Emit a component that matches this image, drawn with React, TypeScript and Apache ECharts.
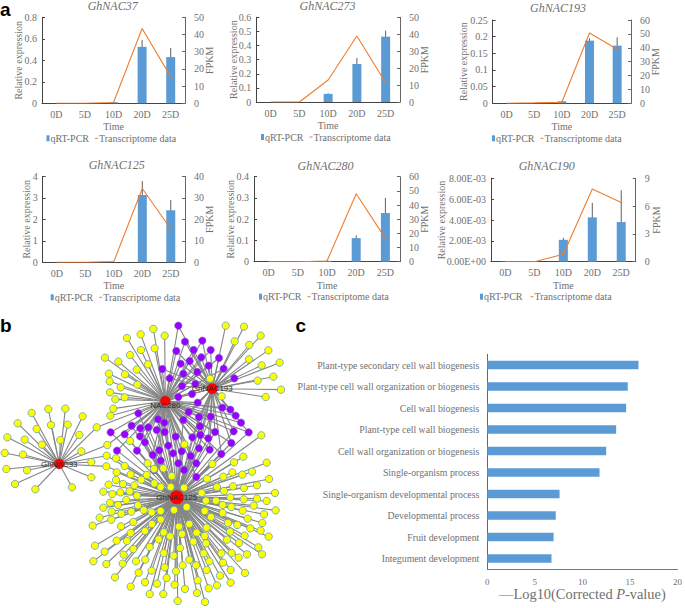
import React, { useEffect, useRef } from "react";
import * as echarts from "echarts";

const SERIF = "'Liberation Serif', serif";
const SANS = "'Liberation Sans', sans-serif";
const GREY = "#707070";
const BLUE = "#5b9bd5";
const ORANGE = "#ed7d31";

const days = ["0D", "5D", "10D", "20D", "25D"];

const nac37Bars = [0, 0, 0.01, 0.525, 0.43];
const nac37Err = [0, 0, 0.002, 0.065, 0.085];
const nac37Fpkm = [0, 0, 0.5, 43.5, 15.5];

const nac273Bars = [0, 0, 0.057, 0.269, 0.463];
const nac273Err = [0, 0, 0.005, 0.043, 0.042];
const nac273Fpkm = [0, 0, 13, 39, 11.4];

const nac193Bars = [0, 0, 0.006, 0.188, 0.173];
const nac193Err = [0, 0, 0.001, 0.007, 0.025];
const nac193Fpkm = [0, 0.3, 0.7, 50.6, 39];

const nac125Bars = [0, 0, 0, 3.13, 2.42];
const nac125Err = [0, 0, 0, 0.65, 0.48];
const nac125Fpkm = [0, 0, 0.4, 34.3, 15.5];

const nac280Bars = [0, 0, 0.004, 0.111, 0.229];
const nac280Err = [0, 0, 0.001, 0.013, 0.071];
const nac280Fpkm = [0, 0, 0.5, 48, 16.5];

const nac190Bars = [0.00004, 0.00003, 0.0021, 0.00425, 0.0038];
const nac190Err = [0.00002, 0.00002, 0.0002, 0.0014, 0.00305];
const nac190Fpkm = [0, 0, 0.8, 7.85, 6.4];

const goTerms = [
  "Plant-type secondary cell wall biogenesis",
  "Plant-type cell wall organization or biogenesis",
  "Cell wall biogenesis",
  "Plant-type cell wall biogenesis",
  "Cell wall organization or biogenesis",
  "Single-organism process",
  "Single-organism developmental process",
  "Developmental process",
  "Fruit development",
  "Integument development",
];
const goValues = [15.9, 14.77, 14.6, 13.55, 12.5, 11.8, 7.6, 7.2, 6.97, 6.75];

type P = [number, number];
const crop = (ox: number, oy: number, pts: P[]): P[] => pts.map(([x, y]) => [ox + x / 3, oy + y / 3]);

const leftOnly = crop(0, 420, [
  [95, -21], [145, -33], [196, -34], [248, -11], [53, 10], [110, 27], [153, 15], [203, 14], [238, 45],
  [22, 52], [74, 59], [126, 74], [181, 60], [14, 99], [69, 104], [244, 94], [274, 126], [19, 147],
  [81, 151], [274, 172], [45, 192], [106, 208], [216, 202],
]);
const leftAnd280 = crop(0, 420, [[290, 22], [322, 75]]);
const leftAnd125 = crop(0, 420, [[320, 107], [319, 139]]);

const yellow280 = crop(90, 310, [
  [190, 57], [224, 77], [152, 73], [111, 84], [194, 115], [153, 120], [120, 135], [45, 143], [85, 155],
  [174, 163], [140, 179], [57, 191], [105, 193], [59, 214], [142, 224], [92, 232], [60, 247], [76, 268],
  [104, 262], [70, 296], [61, 317],
]);
const yellow193 = crop(90, 310, [
  [407, 47], [462, 50], [512, 77], [434, 94], [478, 105], [535, 121], [477, 148], [569, 158], [515, 166],
  [550, 200], [503, 212], [573, 239], [527, 261], [395, 259], [360, 206],
]);
const purpleUpper = crop(90, 310, [
  [265, 47], [285, 95], [337, 92], [259, 123], [311, 120], [362, 120], [334, 142], [387, 144], [299, 153],
  [272, 161], [356, 167], [217, 177], [401, 176], [322, 186], [280, 191], [239, 205], [433, 205], [316, 222],
  [276, 228], [306, 252], [265, 261], [323, 278], [397, 293], [421, 299], [296, 306], [437, 317], [453, 338],
]);
const purpleLower = crop(90, 310, [
  [145, 310], [204, 328], [223, 338], [125, 347], [151, 355], [175, 352], [200, 360], [224, 366], [62, 367],
  [104, 373], [150, 379], [257, 380], [165, 397], [235, 407], [81, 422], [141, 422], [208, 421], [249, 430],
  [275, 424], [302, 438], [188, 435], [212, 452], [265, 460], [319, 460], [192, 480], [282, 480], [319, 501],
]);
const purpleRightLower = crop(90, 310, [
  [280, 330], [327, 321], [362, 320], [330, 349], [431, 364], [476, 367], [375, 366], [307, 382], [331, 375],
  [355, 385], [424, 399], [327, 415], [359, 419], [394, 432],
]);
const yellow125Top = crop(90, 310, [[120, 393], [283, 403], [514, 376]]);
const yellow125 = crop(90, 455, [
  [78, 10], [104, 33], [80, 52], [122, 58], [154, 74], [170, 60], [192, 42], [220, 40], [245, 63], [173, 25],
  [367, 27], [432, 22], [460, 5], [530, 23], [457, 59], [427, 52], [486, 50], [400, 65], [351, 71], [537, 72],
  [429, 94], [462, 99], [501, 91], [381, 96], [402, 108], [335, 114], [555, 114], [530, 138], [501, 131],
  [461, 133], [421, 127], [378, 137], [348, 137], [398, 150], [491, 152], [424, 156], [557, 166], [458, 167],
  [344, 168], [398, 174], [522, 178], [363, 186], [473, 191], [414, 204], [442, 210], [517, 204], [481, 220],
  [512, 227], [298, 207], [350, 218], [267, 215], [420, 230], [464, 242], [320, 233], [276, 237], [344, 243],
  [536, 245], [240, 244], [221, 232], [411, 254], [310, 260], [348, 265], [447, 264], [505, 277], [270, 279],
  [341, 295], [394, 295], [425, 294], [446, 308], [471, 298], [516, 298], [298, 314], [358, 319], [251, 302],
  [221, 294], [399, 323], [318, 331], [278, 331], [422, 345], [350, 345], [258, 349], [224, 337], [166, 314],
  [138, 319], [98, 326], [101, 299], [130, 282], [179, 276], [206, 253], [165, 228], [186, 207], [130, 201],
  [122, 234], [111, 258], [80, 257], [44, 290], [15, 272], [10, 319], [49, 327], [146, 353], [185, 347],
  [230, 369], [390, 362], [465, 354], [422, 383], [381, 391], [356, 400], [323, 376], [201, 386], [165, 382],
  [75, 367], [122, 395], [254, 389], [285, 402], [321, 414], [179, 417], [220, 417], [263, 438], [345, 441],
  [93, 214], [8, 212], [29, 188], [64, 194], [40, 158], [65, 170], [94, 176], [60, 143], [84, 150], [124, 170],
  [161, 165], [185, 172], [212, 168], [212, 194], [252, 165], [290, 156], [144, 151], [109, 135], [141, 122],
  [91, 112], [67, 117], [40, 110], [119, 109], [133, 91], [78, 75], [56, 89], [99, 87], [193, 85], [212, 96],
  [242, 96], [282, 98],
]);

const hubs: { name: string; at: P; size: number; offset: P }[] = [
  { name: "GhNAC33", at: [59.3, 464], size: 10, offset: [0, 0] },
  { name: "NAC280", at: [165.3, 401], size: 10, offset: [0, 4] },
  { name: "GhNAC193", at: [212.3, 388.7], size: 10.5, offset: [0, 0] },
  { name: "GhNAC125", at: [176.7, 497.3], size: 13.5, offset: [0, 0] },
];

const panels = [
  { title: "GhNAC37", cx: 112.7, ty: 5, g: [42, 17.3, 185, 103.3], max: 0.8, step: 0.2, rmax: 50, rstep: 10, bars: nac37Bars, err: nac37Err, fpkm: nac37Fpkm, gap: 19, rgap: 19, lx: 46.5, dashGap: 6 },
  { title: "GhNAC273", cx: 327.5, ty: 5, g: [256.3, 17.3, 400, 102], max: 0.6, step: 0.1, rmax: 50, rstep: 10, bars: nac273Bars, err: nac273Err, fpkm: nac273Fpkm, gap: 18, rgap: 19, lx: 261, dashGap: 6 },
  { title: "GhNAC193", cx: 558, ty: 7, g: [492.7, 20, 631, 103.3], max: 0.25, step: 0.05, rmax: 60, rstep: 10, bars: nac193Bars, err: nac193Err, fpkm: nac193Fpkm, gap: 24, rgap: 19, lx: 492, dashGap: 6 },
  { title: "GhNAC125", cx: 116.7, ty: 164, g: [42.7, 176.3, 185, 262.3], max: 4, step: 1, rmax: 40, rstep: 10, bars: nac125Bars, err: nac125Err, fpkm: nac125Fpkm, gap: 11, rgap: 19, lx: 50.7, dashGap: 6 },
  { title: "GhNAC280", cx: 325.5, ty: 165, g: [254, 176.7, 400, 261.7], max: 0.4, step: 0.1, rmax: 60, rstep: 10, bars: nac280Bars, err: nac280Err, fpkm: nac280Fpkm, gap: 19, rgap: 19, lx: 259, dashGap: 6 },
  { title: "GhNAC190", cx: 546.7, ty: 165, g: [491, 178.3, 635.7, 261.7], max: 0.008, step: 0.002, rmax: 9, rstep: 3, bars: nac190Bars, err: nac190Err, fpkm: nac190Fpkm, gap: 45, rgap: 16, lx: 480, dashGap: 8 },
];

const sci = (v: number) => {
  const [m, e] = v.toExponential(2).split("e");
  const n = Math.abs(Number(e));
  return `${m}E${e[0] === "-" ? "-" : "+"}${n < 10 ? "0" + n : n}`;
};

function buildOption() {
  const W = 685, H = 608;
  const grid: any[] = [], xAxis: any[] = [], yAxis: any[] = [], series: any[] = [], title: any[] = [], legend: any[] = [];

  panels.forEach((p, i) => {
    const [x0, y0, x1, y1] = p.g;
    grid.push({ left: x0, top: y0, width: x1 - x0, height: y1 - y0, containLabel: false });
    title.push({ text: p.title, left: p.cx, top: p.ty - 5.5, textAlign: "center", padding: 0,
      textStyle: { fontFamily: SERIF, fontStyle: "italic", fontWeight: "normal", fontSize: 12, color: GREY } });
    xAxis.push({ type: "category", gridIndex: i, data: days, name: "Time", nameLocation: "middle", nameGap: 18.5,
      nameTextStyle: { fontFamily: SERIF, fontSize: 10, color: GREY },
      axisTick: { show: false }, axisLine: { lineStyle: { color: "#444", width: 1 } },
      axisLabel: { fontFamily: SERIF, fontSize: 10, color: GREY, margin: 6, interval: 0 } });
    const yBase = (name: string, gap: number, rotate: number, side: string, color: string) => ({
      type: "value", gridIndex: i, position: side, name, nameLocation: "middle", nameGap: gap, nameRotate: rotate, nameMoveOverlap: false,
      nameTextStyle: { fontFamily: SERIF, fontSize: 10, color: GREY }, splitLine: { show: false },
      axisLine: { show: true, onZero: false, lineStyle: { color, width: 1 } },
      axisTick: { show: true, inside: true, length: 3, lineStyle: { color, width: 1 } } });
    yAxis.push({ ...yBase("Relative expression", p.gap, 90, "left", "#444"), min: 0, max: p.max, interval: p.step,
      axisLabel: { fontFamily: SERIF, fontSize: 10, color: GREY, margin: 5, showMinLabel: true, showMaxLabel: true,
        formatter: p.max < 0.01 ? (v: number) => sci(v) : (v: number) => String(Number(v.toFixed(3))) } });
    yAxis.push({ ...yBase("FPKM", p.rgap, 90, "right", "#666"), min: 0, max: p.rmax, interval: p.rstep,
      axisLabel: { fontFamily: SERIF, fontSize: 10, color: GREY, margin: 9, showMinLabel: true, showMaxLabel: true } });

    series.push({ name: "qRT-PCR", type: "bar", xAxisIndex: i, yAxisIndex: 2 * i, data: p.bars, barWidth: 9,
      itemStyle: { color: BLUE } });
    series.push({ type: "custom", xAxisIndex: i, yAxisIndex: 2 * i, data: p.bars.map((b, k) => [k, Math.max(b - p.err[k], 0), b + p.err[k]]),
      encode: { x: 0, y: [1, 2] }, clip: false, silent: true,
      renderItem: (_: any, api: any) => {
        const a = api.coord([api.value(0), api.value(1)]);
        const b = api.coord([api.value(0), api.value(2)]);
        return { type: "line", shape: { x1: a[0], y1: a[1], x2: b[0], y2: b[1] }, style: { stroke: "#5f5f5f", lineWidth: 1 } };
      } });
    series.push({ name: "Transcriptome data", type: "line", xAxisIndex: i, yAxisIndex: 2 * i + 1, data: p.fpkm, symbol: "none",
      lineStyle: { color: ORANGE, width: 1.1 }, itemStyle: { color: ORANGE } });

    legend.push({ data: [{ name: "qRT-PCR", icon: "rect" }, { name: "Transcriptome data", icon: "path://M0 0h3v1H0z" }],
      left: p.lx, top: y1 + 30, orient: "horizontal", padding: 0,
      itemWidth: 3, itemHeight: 6, itemGap: p.dashGap, selectedMode: false,
      textStyle: { fontFamily: SERIF, fontSize: 10, color: GREY, padding: [0, 0, 0, -4] } });
  });

  // panel c
  const cx0 = 487.3, cy0 = 354.3, cx1 = 679.7, cy1 = 569.3;
  grid.push({ left: cx0, top: cy0, width: cx1 - cx0, height: cy1 - cy0 });
  xAxis.push({ type: "value", gridIndex: 6, min: 0, max: 20, interval: 5, splitLine: { show: false }, axisTick: { show: false },
    axisLine: { show: true, lineStyle: { color: "#777" } },
    axisLabel: { fontFamily: SERIF, fontSize: 9, color: GREY, margin: 8, showMaxLabel: true },
    name: "{a|—Log10(Corrected }{i|P}{a|-value)}", nameLocation: "middle", nameGap: 18,
    nameTextStyle: { rich: { a: { fontFamily: SERIF, fontSize: 14.4, color: GREY }, i: { fontFamily: SERIF, fontSize: 14.4, fontStyle: "italic", color: GREY } } } });
  yAxis.push({ type: "category", gridIndex: 6, inverse: true, data: goTerms, axisTick: { show: false },
    axisLine: { lineStyle: { color: "#666" } },
    axisLabel: { fontFamily: SERIF, fontSize: 9.8, color: GREY, margin: 8, interval: 0 } });
  series.push({ type: "bar", xAxisIndex: 6, yAxisIndex: 12, data: goValues, barWidth: 8.5, itemStyle: { color: BLUE } });

  // panel b
  grid.push({ left: 0, top: 0, width: W, height: H });
  xAxis.push({ type: "value", gridIndex: 7, min: 0, max: W, show: false });
  yAxis.push({ type: "value", gridIndex: 7, min: 0, max: H, inverse: true, show: false });

  const nodes: any[] = [];
  const links: any[] = [];
  const yellow = { color: "#ffff00", borderColor: "#5fa5ad", borderWidth: 0.8 };
  const purple = { color: "#9900ff", borderColor: "#6d6fc0", borderWidth: 0.6 };
  const add = (pts: P[], style: any, targets: number[]) => pts.forEach((pt) => {
    const id = nodes.length;
    nodes.push({ name: `n${id}`, value: pt, symbolSize: 7.4, itemStyle: style, label: { show: false } });
    targets.forEach((t) => links.push({ source: id, target: t }));
  });
  // the hubs are appended last so they draw on top
  const total = [leftOnly, leftAnd280, leftAnd125, yellow280, yellow193, purpleUpper, purpleLower, purpleRightLower, yellow125Top, yellow125]
    .reduce((s, a) => s + a.length, 0);
  const [h33, h280, h193, h125] = hubs.map((_, i) => total + i);
  add(leftOnly, yellow, [h33]);
  add(leftAnd280, yellow, [h33, h280]);
  add(leftAnd125, yellow, [h33, h125]);
  add(yellow280, yellow, [h280]);
  add(yellow193, yellow, [h193]);
  add(purpleUpper, purple, [h280, h193]);
  add(purpleLower, purple, [h280, h125]);
  add(purpleRightLower, purple, [h280, h193, h125]);
  add(yellow125Top, yellow, [h125]);
  add(yellow125, yellow, [h125]);
  hubs.forEach((h) => nodes.push({ name: h.name, value: h.at, symbolSize: h.size,
    itemStyle: { color: "#ff0000", borderColor: "#c02030", borderWidth: 0.5 },
    label: { show: true, position: "inside", offset: h.offset, formatter: h.name, fontFamily: SANS, fontSize: 8, color: "#2a2a2a" } }));

  series.push({ type: "graph", coordinateSystem: "cartesian2d", xAxisIndex: 7, yAxisIndex: 13, layout: "none", silent: true,
    data: nodes, links, edgeSymbol: ["none", "none"], lineStyle: { color: "#858585", width: 1.1, opacity: 1, curveness: 0 },
    emphasis: { disabled: true } });

  const letter = (text: string, x: number, y: number) => ({ type: "text", left: x, top: y,
    style: { text, fontFamily: SANS, fontWeight: "bold", fontSize: 19, lineHeight: 12, fill: "#000" } });

  return {
    animation: false, backgroundColor: "#fff", title, legend, grid, xAxis, yAxis, series, tooltip: { show: false },
    graphic: [letter("a", 0, 0), letter("b", 0, 315.5), letter("c", 295.5, 315.5)],
  };
}

export default function App() {
  const ref = useRef<HTMLDivElement>(null);
  useEffect(() => {
    const chart = echarts.init(ref.current!, undefined, { renderer: "svg" });
    chart.setOption(buildOption() as any);
    return () => chart.dispose();
  }, []);
  return <div ref={ref} style={{ position: "absolute", left: 0, top: 0, width: 685, height: 608 }} />;
}
